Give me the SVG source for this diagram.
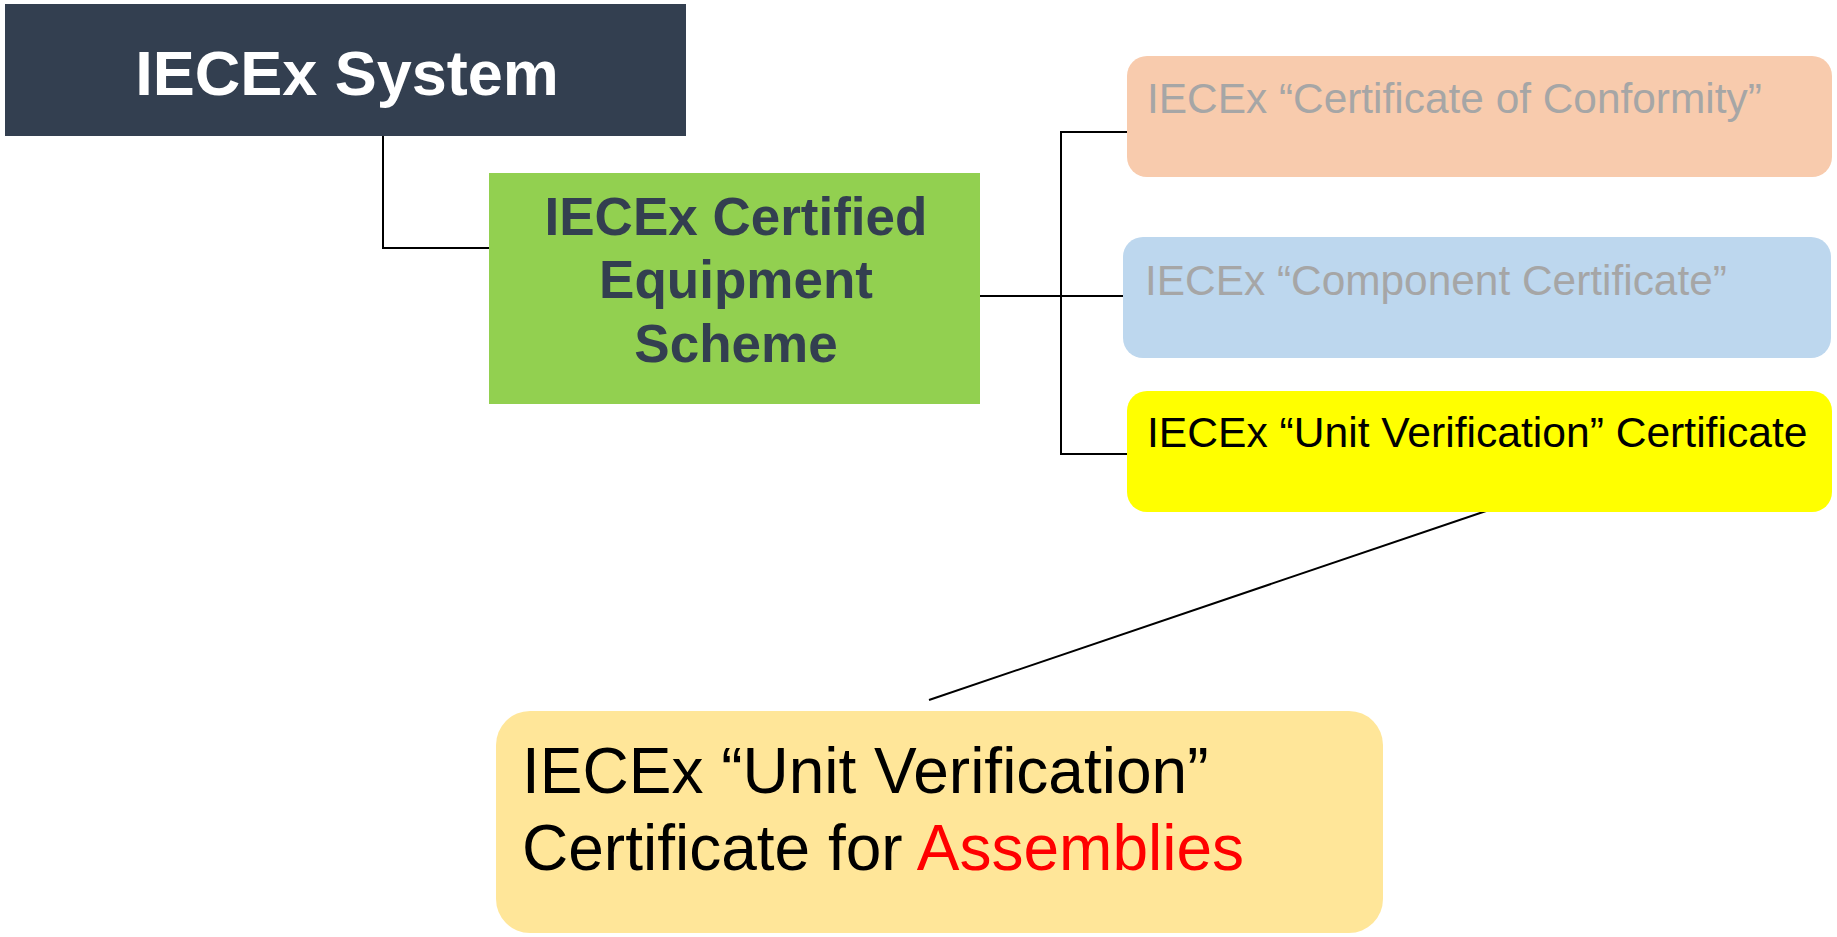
<svg xmlns="http://www.w3.org/2000/svg" width="1837" height="937" viewBox="0 0 1837 937">
<style>
.t{font-family:"Liberation Sans",Arial,sans-serif}
.b{font-weight:bold}
.c{fill:none;stroke:#000;stroke-width:2}
</style>
<rect x="0" y="0" width="1837" height="937" fill="#fff"/>
<g id="connectors">
<polyline class="c" points="383,136 383,248 489,248"/>
<line class="c" x1="980" y1="296" x2="1123" y2="296"/>
<polyline class="c" points="1127,132 1061,132 1061,454 1127,454"/>
<line class="c" x1="1492" y1="509" x2="929" y2="700"/>
</g>
<g id="iecex-system">
<rect x="5" y="4" width="681" height="132" fill="#333f50"/>
<text class="t b" x="347" y="95" font-size="63" fill="#fff" text-anchor="middle">IECEx System</text>
</g>
<g id="equipment-scheme">
<rect x="489" y="173" width="491" height="231" fill="#92d050"/>
<text class="t b" font-size="53" fill="#333f50" text-anchor="middle"><tspan x="736" y="235">IECEx Certified</tspan><tspan x="736" y="298">Equipment</tspan><tspan x="736" y="362">Scheme</tspan></text>
</g>
<g id="coc">
<rect x="1127" y="56" width="705" height="121" rx="20" fill="#f8cbad"/>
<text class="t" x="1147" y="113" font-size="42.4" fill="#a6a6a6">IECEx “Certificate of Conformity”</text>
</g>
<g id="component">
<rect x="1123" y="237" width="708" height="121" rx="20" fill="#bdd7ee"/>
<text class="t" x="1145" y="295" font-size="42.4" fill="#a6a6a6">IECEx “Component Certificate”</text>
</g>
<g id="unit-verification">
<rect x="1127" y="391" width="705" height="121" rx="20" fill="#ffff00"/>
<text class="t" x="1147" y="447" font-size="42.6" fill="#000">IECEx “Unit Verification” Certificate</text>
</g>
<g id="assemblies">
<rect x="496" y="711" width="887" height="222" rx="34" fill="#ffe699"/>
<text class="t" font-size="64" fill="#000"><tspan x="522" y="793">IECEx “Unit Verification”</tspan><tspan x="522" y="870">Certificate for <tspan fill="#ff0000">Assemblies</tspan></tspan></text>
</g>
</svg>
